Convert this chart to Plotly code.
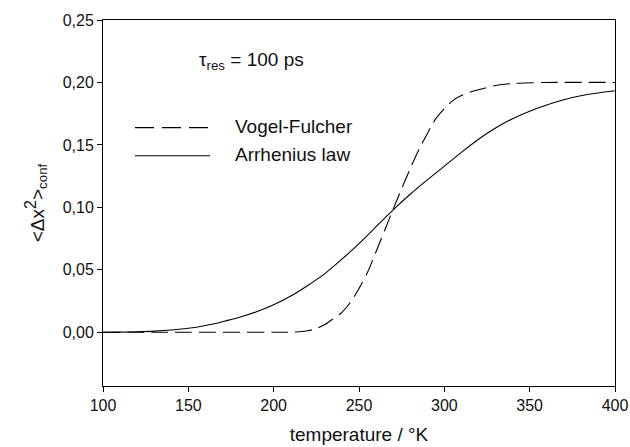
import plotly.graph_objects as go

# Arrhenius law (solid)
arr_T = [100, 110, 120, 130, 140, 150, 160, 170, 180, 190, 200, 210, 220, 230, 240, 250, 260, 270,
         280, 290, 300, 310, 320, 330, 340, 350, 360, 370, 380, 390, 400]
arr_v = [0.0, 0.0001, 0.0004, 0.0009, 0.0018, 0.0032, 0.0055, 0.0085, 0.012, 0.0165, 0.022, 0.029,
         0.0375, 0.047, 0.0585, 0.071, 0.0845, 0.098, 0.1105, 0.122, 0.133, 0.144, 0.1545, 0.1635,
         0.171, 0.177, 0.182, 0.1862, 0.1894, 0.1916, 0.1934]

# Vogel-Fulcher (dashed)
vf_T = [100, 150, 200, 210, 215, 220, 225, 230, 235, 240, 245, 250, 255, 260, 265, 270, 275, 280,
        285, 290, 295, 300, 305, 310, 315, 320, 330, 340, 360, 400]
vf_v = [0.0, 0.0, 0.0, 0.0001, 0.0004, 0.0012, 0.003, 0.0062, 0.011, 0.016, 0.024, 0.035, 0.048,
        0.0645, 0.0815, 0.0985, 0.115, 0.131, 0.146, 0.159, 0.171, 0.179, 0.1855, 0.1895, 0.1922,
        0.1942, 0.1975, 0.1992, 0.2, 0.2]

series_names = ["Vogel-Fulcher", "Arrhenius law"]

x_ticks = [100, 150, 200, 250, 300, 350, 400]
y_ticks = [0.0, 0.05, 0.10, 0.15, 0.20, 0.25]

FONT = "Liberation Sans, Arial, sans-serif"
TXT = "#111"

fig = go.Figure()
fig.add_trace(go.Scatter(x=vf_T, y=vf_v, mode="lines", name=series_names[0], showlegend=False,
                         line=dict(color="black", width=1.1, dash="17px,7px", shape="spline", smoothing=0.8)))
fig.add_trace(go.Scatter(x=arr_T, y=arr_v, mode="lines", name=series_names[1], showlegend=False,
                         line=dict(color="black", width=1.1, shape="spline", smoothing=0.8)))

# annotation
fig.add_annotation(x=155, y=0.217, xref="x", yref="y", xanchor="left", yanchor="middle",
                   text="τ<sub>res</sub> = 100 ps", showarrow=False,
                   font=dict(family=FONT, size=19, color=TXT))

# manual legend
leg_rows = [(0.706, "19px,8px"), (0.629, "solid")]
for (yy, dash), name in zip(leg_rows, series_names):
    fig.add_shape(type="line", xref="paper", yref="paper", x0=0.0625, x1=0.209, y0=yy, y1=yy,
                  line=dict(color="black", width=1.1, dash=dash))
    fig.add_annotation(x=0.254, y=yy + 0.003, xref="paper", yref="paper", xanchor="left", yanchor="middle",
                       text=name, showarrow=False, font=dict(family=FONT, size=19, color=TXT))

fig.update_layout(
    width=630, height=447,
    margin=dict(l=103, r=15, t=20, b=61),
    paper_bgcolor="white", plot_bgcolor="white",
    separators=", ",
    font=dict(family=FONT, size=16, color=TXT),
    showlegend=False,
)
fig.update_xaxes(range=[100, 400], tickvals=x_ticks, ticks="outside", ticklen=5, tickcolor="black",
                 showline=True, linecolor="black", linewidth=1, mirror=True, showgrid=False, zeroline=False,
                 automargin=False,
                 title=dict(text="temperature / °K", font=dict(family=FONT, size=19, color=TXT), standoff=14),
                 tickfont=dict(family=FONT, size=16, color=TXT))
fig.update_yaxes(range=[-0.043, 0.25], tickvals=y_ticks, tickformat=".2f", ticks="outside", ticklen=5,
                 tickcolor="black", showline=True, linecolor="black", linewidth=1, mirror=True,
                 showgrid=False, zeroline=False, automargin=False,
                 title=dict(text="&lt;Δx<sup><span style='font-size:16px'>2</span></sup>&gt;<sub>conf</sub>",
                            font=dict(family=FONT, size=19, color=TXT), standoff=13),
                 tickfont=dict(family=FONT, size=16, color=TXT))

fig.write_html("out.html")
